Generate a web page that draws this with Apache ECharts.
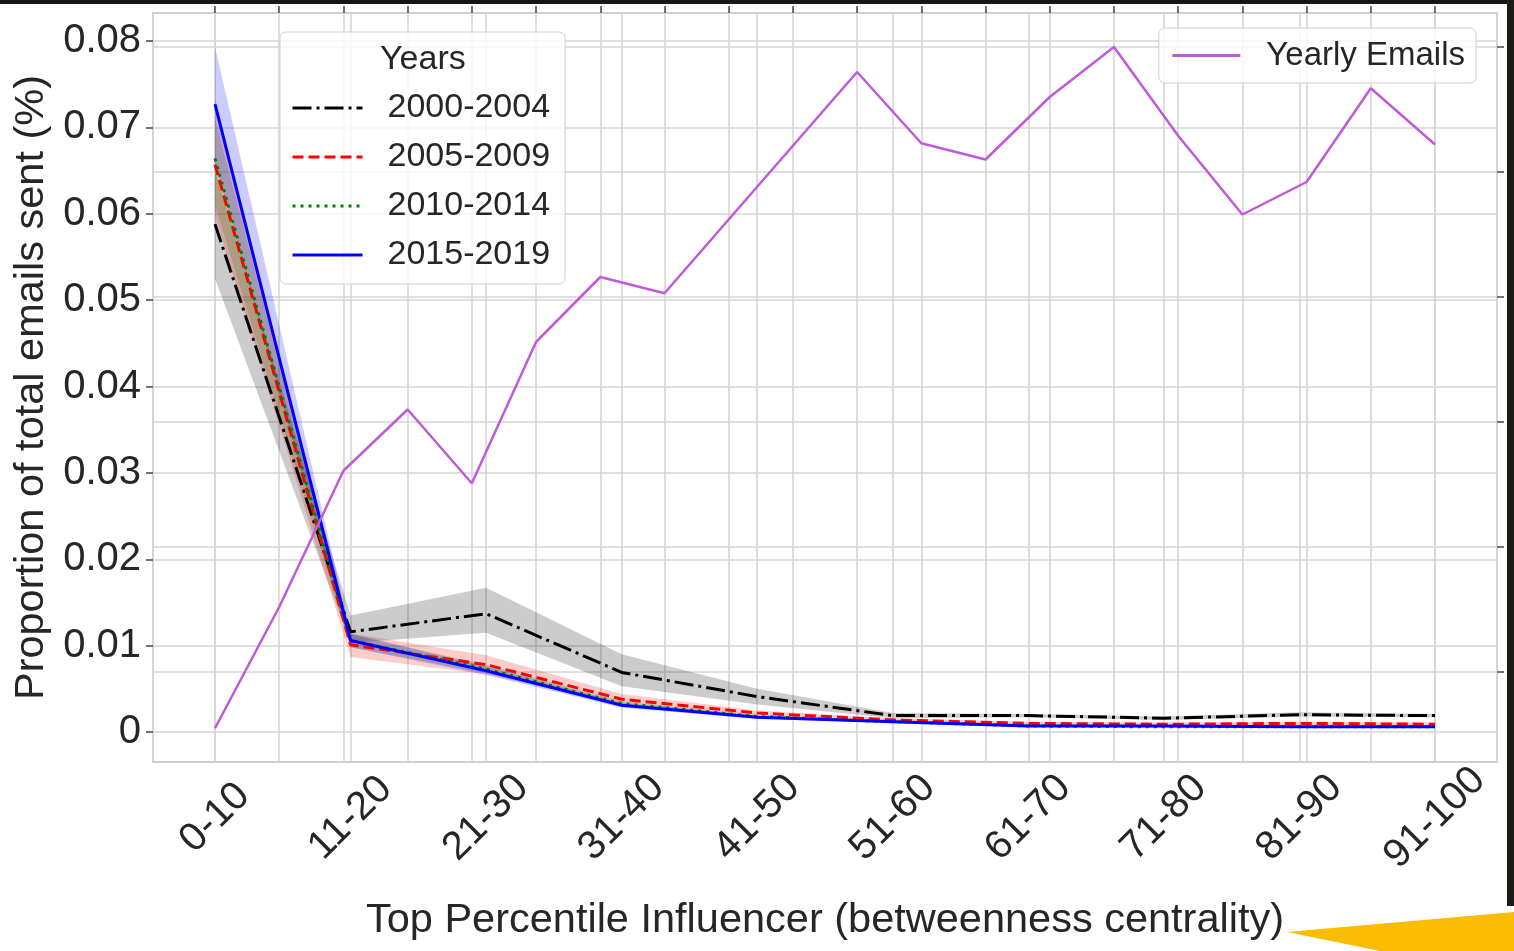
<!DOCTYPE html>
<html>
<head>
<meta charset="utf-8">
<title>Proportion of total emails sent by influencer percentile</title>
<script src="https://cdn.jsdelivr.net/npm/echarts@6/dist/echarts.min.js"></script>
<style>
  html, body { margin: 0; padding: 0; background: #fff; }
  #chart { width: 1514px; height: 951px; }
</style>
</head>
<body>
<div id="chart"></div>
<script>
// percentile buckets on the bottom axis
const categories = ['0-10', '11-20', '21-30', '31-40', '41-50', '51-60', '61-70', '71-80', '81-90', '91-100']

// mean line + confidence band per period
const y2000 = [0.0588, 0.0116, 0.0137, 0.0069, 0.0041, 0.0019, 0.0019, 0.0016, 0.0020, 0.0019]
const lo2000 = [0.0525, 0.0103, 0.0115, 0.0053, 0.0032, 0.0016, 0.0017, 0.0014, 0.0018, 0.0017]
const hi2000 = [0.0650, 0.0135, 0.0167, 0.0090, 0.0050, 0.0022, 0.0021, 0.0018, 0.0023, 0.0021]

const y2005 = [0.0657, 0.0101, 0.0078, 0.0038, 0.0022, 0.0014, 0.0010, 0.0009, 0.0010, 0.0009]
const lo2005 = [0.0597, 0.0087, 0.0067, 0.0032, 0.0019, 0.0012, 0.0008, 0.0007, 0.0008, 0.0007]
const hi2005 = [0.0733, 0.0114, 0.0089, 0.0044, 0.0025, 0.0016, 0.0012, 0.0011, 0.0012, 0.0011]

const y2010 = [0.0664, 0.0106, 0.0073, 0.0033, 0.0018, 0.0012, 0.0007, 0.0006, 0.0006, 0.0006]
const lo2010 = [0.0610, 0.0098, 0.0068, 0.0030, 0.0016, 0.0011, 0.0006, 0.0005, 0.0005, 0.0005]
const hi2010 = [0.0710, 0.0113, 0.0078, 0.0036, 0.0020, 0.0013, 0.0008, 0.0007, 0.0007, 0.0007]

const y2015 = [0.0727, 0.0106, 0.0071, 0.0031, 0.0017, 0.0012, 0.0007, 0.0007, 0.0006, 0.0006]
const lo2015 = [0.0660, 0.0098, 0.0066, 0.0028, 0.0015, 0.0011, 0.0006, 0.0006, 0.0005, 0.0005]
const hi2015 = [0.0793, 0.0114, 0.0076, 0.0034, 0.0019, 0.0013, 0.0008, 0.0008, 0.0007, 0.0007]

// yearly emails, drawn on the twin axes (their scale is unlabelled in the source)
const yearlyEmails = [0.55, 1.52, 2.61, 3.10, 2.51, 3.64, 4.16, 4.03, 4.62, 5.21,
  5.80, 5.23, 5.10, 5.60, 6.00, 5.29, 4.66, 4.92, 5.67, 5.22]

// tick values
const yTicks = [0, 0.01, 0.02, 0.03, 0.04, 0.05, 0.06, 0.07, 0.08]
const emailTicks = [1, 2, 3, 4, 5, 6]

const FONT = "'Liberation Sans', Arial, sans-serif"
const TEXT = '#262626'
const gridLine = { show: true, lineStyle: { color: '#d6d6d6', width: 1.6 } }
const tickStyle = { color: '#444', width: 1.5 }
const noLine = { show: false, onZero: false }

const catIdx = categories.map((c, i) => i)
const emailIdx = yearlyEmails.map((v, i) => i)

// confidence band as one polygon, coords go through the axes
function band(name, lo, hi, fill) {
  return {
    name: name,
    type: 'custom',
    xAxisIndex: 0,
    yAxisIndex: 0,
    silent: true,
    z: 1,
    data: lo.map((v, i) => [i, v, hi[i]]),
    encode: { x: 0, y: [1, 2] },
    renderItem: function (params, api) {
      if (params.dataIndex !== 0) return
      const pts = []
      for (let i = 0; i < hi.length; i++) pts.push(api.coord([i, hi[i]]))
      for (let i = lo.length - 1; i >= 0; i--) pts.push(api.coord([i, lo[i]]))
      return { type: 'polygon', shape: { points: pts }, style: { fill: fill } }
    }
  }
}

function line(name, values, color, type) {
  return {
    name: name,
    type: 'line',
    xAxisIndex: 0,
    yAxisIndex: 0,
    z: 3,
    symbol: 'none',
    showSymbol: false,
    data: values.map((v, i) => [i, v]),
    itemStyle: { color: color },
    lineStyle: { color: color, width: 3, type: type }
  }
}

const legendBox = {
  backgroundColor: 'rgba(255,255,255,0.8)',
  borderColor: '#d0d0d0', borderWidth: 1, borderRadius: 6,
  itemHeight: 14,
  itemStyle: { opacity: 0 },
  lineStyle: { width: 3 }
}

const chart = echarts.init(document.getElementById('chart'))

chart.setOption({
  animation: false,
  backgroundColor: '#fff',
  textStyle: { fontFamily: FONT, color: TEXT },
  grid: {
    left: 153, top: 13, width: 1344, height: 749,
    show: true, borderColor: '#cfcfcf', borderWidth: 2, backgroundColor: 'transparent'
  },
  title: {
    text: 'Years',
    left: 380, top: 43, padding: 0,
    textStyle: { fontSize: 34, fontWeight: 'normal', color: TEXT, fontFamily: FONT }
  },
  legend: [Object.assign({
    data: ['2000-2004', '2005-2009', '2010-2014', '2015-2019'],
    orient: 'vertical',
    left: 280, top: 32,
    padding: [59, 15, 12, 11],
    itemGap: 15,
    itemWidth: 70,
    textStyle: { fontSize: 34, color: TEXT, fontFamily: FONT, padding: [0, 0, 0, 20] }
  }, legendBox), Object.assign({
    data: ['Yearly Emails'],
    right: 38, top: 28,
    padding: [11, 11, 11, 12],
    itemWidth: 68,
    textStyle: { fontSize: 33, color: TEXT, fontFamily: FONT, padding: [0, 0, 0, 21] }
  }, legendBox)],
  xAxis: [{
    type: 'value',
    position: 'bottom',
    min: -0.4574, max: 9.4574, splitNumber: 10,
    axisLine: noLine,
    axisTick: { show: false },
    axisLabel: {
      customValues: catIdx,
      formatter: v => Number.isInteger(v) ? categories[v] : '',
      rotate: 45, align: 'center', verticalAlign: 'middle', margin: 56,
      fontSize: 40, color: TEXT, fontFamily: FONT
    },
    splitLine: gridLine,
    name: 'Top Percentile Influencer (betweenness centrality)',
    nameLocation: 'middle', nameGap: 138,
    nameTextStyle: { fontSize: 41.5, color: TEXT, fontFamily: FONT }
  }, {
    type: 'value',
    position: 'top',
    min: -0.9656, max: 19.9656, splitNumber: 20,
    axisLine: noLine,
    axisTick: { show: true, length: 7, customValues: emailIdx, lineStyle: tickStyle },
    axisLabel: { show: false },
    splitLine: gridLine
  }],
  yAxis: [{
    type: 'value',
    position: 'left',
    min: -0.00347, max: 0.08324, splitNumber: 8,
    axisLine: noLine,
    axisTick: { show: true, length: 7, customValues: yTicks, lineStyle: tickStyle },
    axisLabel: {
      customValues: yTicks,
      formatter: v => v === 0 ? '0' : v.toFixed(2),
      margin: 12, fontSize: 40, color: TEXT, fontFamily: FONT
    },
    splitLine: gridLine,
    name: 'Proportion of total emails sent (%)',
    nameLocation: 'middle', nameGap: 98,
    nameTextStyle: { fontSize: 41.5, color: TEXT, fontFamily: FONT }
  }, {
    type: 'value',
    position: 'right',
    min: 0.28, max: 6.272, splitNumber: 6,
    axisLine: noLine,
    axisTick: { show: true, length: 7, customValues: emailTicks, lineStyle: tickStyle },
    axisLabel: { show: false },
    splitLine: gridLine
  }],
  series: [
    band('2000-2004 band', lo2000, hi2000, 'rgba(0,0,0,0.2)'),
    band('2005-2009 band', lo2005, hi2005, 'rgba(255,0,0,0.2)'),
    band('2010-2014 band', lo2010, hi2010, 'rgba(0,128,0,0.2)'),
    band('2015-2019 band', lo2015, hi2015, 'rgba(0,0,255,0.2)'),
    line('2000-2004', y2000, '#000000', [19, 5, 3, 5]),
    line('2005-2009', y2005, '#ff0000', [11, 5]),
    line('2010-2014', y2010, '#008000', [3, 5]),
    line('2015-2019', y2015, '#0000ff', 'solid'),
    {
      name: 'Yearly Emails',
      type: 'line',
      xAxisIndex: 1,
      yAxisIndex: 1,
      z: 5,
      symbol: 'none',
      showSymbol: false,
      data: yearlyEmails.map((v, i) => [i, v]),
      itemStyle: { color: '#bf5ad9' },
      lineStyle: { color: '#bf5ad9', width: 2.5 }
    }
  ],
  // slide edges around the screenshot
  graphic: [
    { type: 'rect', shape: { x: 0, y: 0, width: 1514, height: 4 }, style: { fill: '#161513' } },
    { type: 'rect', shape: { x: 1507, y: 0, width: 7, height: 906 }, style: { fill: '#1c1a17' } },
    { type: 'polygon', shape: { points: [[1287, 932], [1514, 912], [1514, 951], [1380, 951]] }, style: { fill: '#fbbc04' } }
  ]
})
</script>
</body>
</html>
